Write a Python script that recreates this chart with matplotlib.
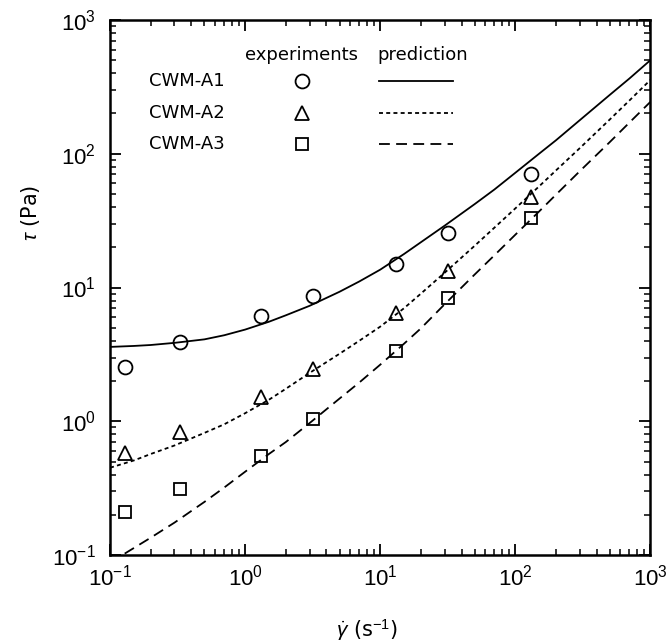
import numpy as np
import matplotlib
matplotlib.use('Agg')
import matplotlib.pyplot as plt

plt.rcParams['font.family'] = ['Liberation Sans Narrow', 'Liberation Sans', 'DejaVu Sans']
plt.rcParams['mathtext.fontset'] = 'custom'
plt.rcParams['mathtext.rm'] = 'Liberation Sans'
plt.rcParams['mathtext.it'] = 'Liberation Sans:italic'

# measured shear rates (1/s) and shear stresses (Pa)
shear_exp = [0.13, 0.33, 1.3, 3.2, 13, 32, 130]
a1_exp = [2.55, 3.9, 6.1, 8.6, 15.0, 25.5, 70]
a2_exp = [0.58, 0.83, 1.52, 2.46, 6.45, 13.3, 47.5]
a3_exp = [0.21, 0.31, 0.55, 1.04, 3.35, 8.35, 33]

# model prediction curves
shear_pred = [0.1, 0.15, 0.2, 0.3, 0.5, 0.7, 1, 1.5, 2, 3, 5, 7, 10, 15, 20,
              30, 50, 70, 100, 150, 200, 300, 500, 700, 1000]
a1_pred = [3.6, 3.66, 3.72, 3.86, 4.1, 4.4, 4.85, 5.55, 6.2, 7.3, 9.3, 11.1,
           13.6, 17.8, 21.8, 29, 42, 54, 72, 100, 126, 178, 275, 365, 500]
a2_pred = [0.45, 0.51, 0.57, 0.66, 0.82, 0.95, 1.15, 1.45, 1.75, 2.3, 3.2, 4.0,
           5.1, 7.0, 9.0, 12.9, 20.5, 28, 39, 57, 75, 110, 180, 250, 356]
a3_pred = [0.088, 0.113, 0.135, 0.175, 0.25, 0.32, 0.42, 0.57, 0.70, 0.97, 1.48,
           1.95, 2.65, 3.8, 4.95, 7.5, 12.5, 17.4, 24.8, 37, 49.4, 74, 122, 171, 244]

names = ['CWM-A1', 'CWM-A2', 'CWM-A3']
markers = ['o', '^', 's']
msizes = [10, 9.5, 8.5]
styles = ['-', (0, (2.2, 1.8)), (0, (6, 3.5))]

fig = plt.figure(figsize=(6.67, 6.44), dpi=100)
ax = fig.add_axes([0.165, 0.138, 0.81, 0.831])

exps = [a1_exp, a2_exp, a3_exp]
preds = [a1_pred, a2_pred, a3_pred]
for i in range(3):
    ax.plot(shear_pred, preds[i], color='black', lw=1.3, ls=styles[i])
    ax.plot(shear_exp, exps[i], ls='none', marker=markers[i], ms=msizes[i],
            mfc='none', mec='black', mew=1.3)

ax.set_xscale('log')
ax.set_yscale('log')
ax.set_xlim(0.1, 1000)
ax.set_ylim(0.1, 1000)

for s in ax.spines.values():
    s.set_linewidth(1.8)
ax.tick_params(which='both', direction='in', top=True, right=True, labelsize=16)
ax.tick_params(which='major', length=8, width=1.3)
ax.tick_params(which='minor', length=4, width=1.1)
ax.tick_params(axis='x', pad=7)
ax.tick_params(axis='y', pad=10)

ax.set_xlabel(r'$\dot{\it{\gamma}}$ (s$^{-1}$)', fontsize=15, family='DejaVu Sans')
ax.set_ylabel(r'$\it{\tau}$ (Pa)', fontsize=15, family='DejaVu Sans')
ax.xaxis.set_label_coords(0.476, -0.115)
ax.yaxis.set_label_coords(-0.126, 0.64)

# hand-made legend table
tf = ax.transAxes
ax.text(0.354, 0.935, 'experiments', transform=tf, ha='center', va='center',
        fontsize=13, family='DejaVu Sans')
ax.text(0.578, 0.935, 'prediction', transform=tf, ha='center', va='center',
        fontsize=13, family='DejaVu Sans')
rows = [0.886, 0.826, 0.768]
for i in range(3):
    ax.text(0.072, rows[i], names[i], transform=tf, ha='left', va='center',
            fontsize=13, family='DejaVu Sans')
    ax.plot([0.356], [rows[i]], transform=tf, marker=markers[i], ms=msizes[i],
            mfc='none', mec='black', mew=1.3)
    ax.plot([0.498, 0.635], [rows[i], rows[i]], transform=tf, color='black',
            lw=1.3, ls=styles[i])

fig.savefig('out.png', dpi=100)
